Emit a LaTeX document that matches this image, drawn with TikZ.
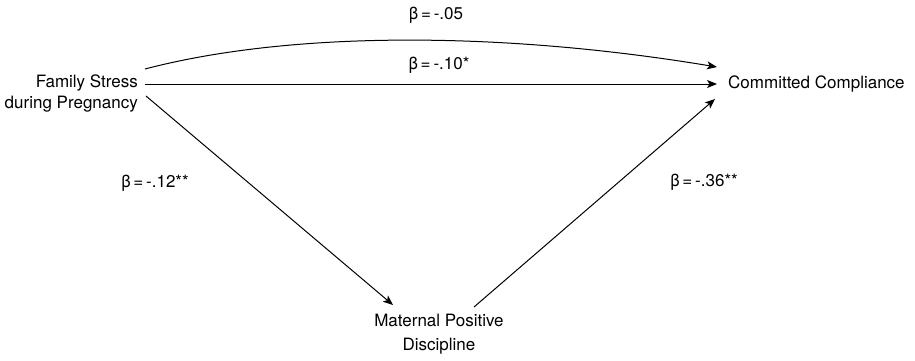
\documentclass[tikz,border=0pt]{standalone}
\usepackage{fontspec}
\setmainfont{TeX Gyre Heros}
\usetikzlibrary{arrows.meta}
\begin{document}
\begin{tikzpicture}[x=1pt,y=-1pt,
  lbl/.style={inner sep=0pt,font=\fontsize{17}{21}\selectfont},
  conn/.style={line width=1pt,-{Stealth[length=10pt,width=8pt,inset=2.5pt]}}]
\useasboundingbox (0,0) rectangle (915,360);
\node[lbl,align=right,anchor=east] (fs) at (138,93) {Family Stress\\during Pregnancy};
\node[lbl,anchor=west] (cc) at (728,84) {Committed Compliance};
\node[lbl,align=center] (mpd) at (439,334) {Maternal Positive\\[3pt]Discipline};
\node[lbl] (b05) at (436,15) {β\,=\,-.05};
\node[lbl] (b10) at (439,65) {β\,=\,-.10*};
\node[lbl] (b12) at (155,183) {β\,=\,-.12**};
\node[lbl] (b36) at (704,182) {β\,=\,-.36**};
\draw[conn] ([shift={(7,-24)}]fs.east) .. controls (290,31) and (500,31) .. ([shift={(-11,-17)}]cc.west);
\draw[conn] ([shift={(7,-9)}]fs.east) -- ([shift={(-11,0)}]cc.west);
\draw[conn] ([shift={(8,3)}]fs.east) -- ([shift={(-46,-29)}]mpd.center);
\draw[conn] ([shift={(35,-27)}]mpd.center) -- ([shift={(-13,15)}]cc.west);
\end{tikzpicture}
\end{document}
